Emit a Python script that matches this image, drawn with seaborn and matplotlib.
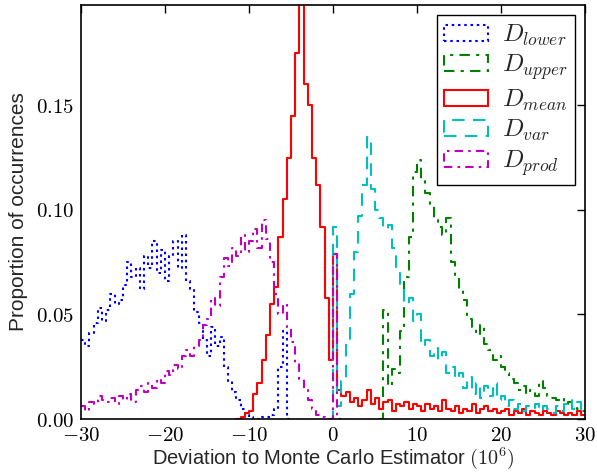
import numpy as np
import pandas as pd
import matplotlib
matplotlib.use("Agg")
import matplotlib.pyplot as plt
from matplotlib.patches import Patch
import seaborn as sns

# ---------------- data ----------------
BIN_WIDTH = 0.5

lower_start = -30.0
lower_heights = [0.038, 0.035, 0.041, 0.046, 0.053, 0.047, 0.052, 0.060, 0.055, 0.057,
                 0.064, 0.075, 0.068, 0.072, 0.062, 0.078, 0.072, 0.085, 0.070, 0.081,
                 0.066, 0.078, 0.085, 0.072, 0.088, 0.066, 0.062, 0.051, 0.046, 0.038,
                 0.030, 0.044, 0.035, 0.039, 0.025, 0.018, 0.013, 0.009, 0.005, 0.002,
                 0.001, 0.000, 0.000, 0.001, 0.001, 0.002, 0.005, 0.025, 0.042, 0.000]

upper_start = 5.5
upper_heights = [0.000, 0.052, 0.016, 0.024, 0.022, 0.042, 0.068, 0.087, 0.118, 0.124,
                 0.114, 0.108, 0.102, 0.095, 0.092, 0.088, 0.096, 0.075, 0.068, 0.062,
                 0.057, 0.048, 0.044, 0.040, 0.045, 0.036, 0.033, 0.028, 0.030, 0.025,
                 0.022, 0.019, 0.017, 0.014, 0.016, 0.012, 0.014, 0.011, 0.018, 0.015,
                 0.011, 0.010, 0.009, 0.010, 0.007, 0.008, 0.006, 0.005, 0.004]

mean_start = -11.5
mean_heights = [0.000, 0.001, 0.003, 0.004, 0.012, 0.017, 0.028, 0.040, 0.055, 0.063,
                0.087, 0.105, 0.125, 0.145, 0.175, 0.205, 0.160, 0.150, 0.125, 0.112,
                0.092, 0.058, 0.028, 0.079, 0.014, 0.011, 0.013, 0.008, 0.010, 0.006,
                0.009, 0.014, 0.007, 0.010, 0.005, 0.008, 0.009, 0.004, 0.007, 0.006,
                0.008, 0.005, 0.007, 0.006, 0.004, 0.007, 0.005, 0.006, 0.004, 0.009,
                0.005, 0.004, 0.006, 0.003, 0.005, 0.004, 0.007, 0.003, 0.005, 0.006,
                0.004, 0.005, 0.003, 0.004, 0.005, 0.002, 0.004, 0.003, 0.005, 0.002,
                0.004, 0.003, 0.002, 0.004, 0.003, 0.002, 0.004, 0.003, 0.002, 0.003,
                0.002, 0.004, 0.002]

var_start = -0.5
var_heights = [0.000, 0.092, 0.006, 0.018, 0.036, 0.060, 0.080, 0.097, 0.112, 0.135,
               0.110, 0.100, 0.096, 0.091, 0.093, 0.082, 0.072, 0.064, 0.055, 0.058,
               0.047, 0.050, 0.035, 0.038, 0.030, 0.034, 0.028, 0.032, 0.022, 0.025,
               0.019, 0.022, 0.015, 0.020, 0.012, 0.017, 0.010, 0.016, 0.011, 0.017,
               0.009, 0.011, 0.006, 0.009, 0.005, 0.007, 0.004, 0.006, 0.005, 0.007,
               0.004, 0.006, 0.005, 0.003, 0.006, 0.004, 0.007, 0.009, 0.005, 0.008,
               0.004]

prod_start = -30.0
prod_heights = [0.006, 0.004, 0.008, 0.007, 0.011, 0.009, 0.008, 0.010, 0.007, 0.011,
                0.009, 0.012, 0.008, 0.014, 0.016, 0.013, 0.017, 0.015, 0.019, 0.017,
                0.023, 0.021, 0.026, 0.024, 0.030, 0.033, 0.030, 0.035, 0.038, 0.045,
                0.048, 0.058, 0.054, 0.068, 0.077, 0.073, 0.082, 0.078, 0.088, 0.080,
                0.085, 0.091, 0.082, 0.095, 0.086, 0.075, 0.060, 0.050, 0.055, 0.044,
                0.037, 0.027, 0.019, 0.014, 0.009, 0.005, 0.002, 0.001, 0.000, 0.000,
                0.079, 0.000]

labels = [r"$D_{lower}$", r"$D_{upper}$", r"$D_{mean}$", r"$D_{var}$", r"$D_{prod}$"]
colors = ["#0000ff", "#008000", "#ff0000", "#00bfbf", "#bf00bf"]
styles = [(0, (1.2, 1.8)), (0, (5, 3, 1.5, 3)), "-", (0, (6, 4)), (0, (4, 2.5, 1.2, 2.5))]

xticks = [-30, -20, -10, 0, 10, 20, 30]
yticks = [0.00, 0.05, 0.10, 0.15]

# ---------------- plotting ----------------
sns.set_style("white")
plt.rcParams["font.family"] = ["Liberation Sans", "DejaVu Sans"]
plt.rcParams["mathtext.fontset"] = "cm"

fig = plt.figure(figsize=(5.97, 4.74), dpi=100)
ax = fig.add_axes([0.1357, 0.116, 0.8443, 0.8735])

series = [(lower_start, lower_heights), (upper_start, upper_heights),
          (mean_start, mean_heights), (var_start, var_heights),
          (prod_start, prod_heights)]

for (start, heights), col, ls in zip(series, colors, styles):
    h = np.asarray(heights, dtype=float)
    edges = start + BIN_WIDTH * np.arange(len(h) + 1)
    centers = edges[:-1] + BIN_WIDTH / 2
    df = pd.DataFrame({"x": centers, "w": h})
    sns.histplot(data=df, x="x", weights="w", bins=[float(e) for e in edges],
                 element="step", fill=False, color=col, linestyle=ls,
                 linewidth=1.5, ax=ax)

ax.set_xlim(-30, 30)
ax.set_ylim(0, 0.198)
ax.set_xticks(xticks, labels=[f"${v}$" for v in xticks])
ax.set_yticks(yticks, labels=[f"${v:.2f}$" for v in yticks])
ax.tick_params(direction="in", top=True, right=True, length=6, width=1,
               labelsize=15, pad=5, colors="black")
for sp in ax.spines.values():
    sp.set_color("black")
    sp.set_linewidth(1.2)

ax.set_xlabel(r"Deviation to Monte Carlo Estimator $(10^6)$", fontsize=14.5, labelpad=0)
ax.set_ylabel("Proportion of occurrences", fontsize=15, labelpad=6)

handles = [Patch(facecolor="none", edgecolor=c, linestyle=s, linewidth=1.5)
           for c, s in zip(colors, styles)]
leg = ax.legend(handles, labels, loc="upper right", fontsize=18, frameon=True,
                fancybox=False, framealpha=1, edgecolor="black",
                borderaxespad=0.4, borderpad=0.3, handlelength=1.75,
                handleheight=0.6, handletextpad=0.55, labelspacing=0.2)
leg.get_frame().set_linewidth(1.0)

fig.savefig("out.png", dpi=100)
